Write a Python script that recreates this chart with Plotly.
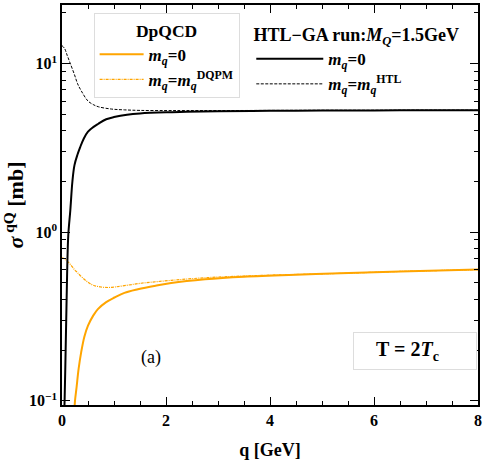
import plotly.graph_objects as go

# ---- data ----
q_htl_m0 = [0.04, 0.05, 0.07, 0.09, 0.12, 0.16, 0.20, 0.24, 0.30, 0.35, 0.42, 0.50, 0.60, 0.70, 0.85, 1.0, 1.25, 1.5, 2.0, 2.4, 3.0, 4.0, 5.0, 6.0, 7.0, 8.0]
v_htl_m0 = [0.08, 0.10, 0.20, 0.42, 0.95, 1.35, 2.0, 2.5, 2.9, 3.2, 3.6, 3.95, 4.2, 4.4, 4.68, 4.82, 4.98, 5.07, 5.15, 5.18, 5.22, 5.25, 5.27, 5.28, 5.29, 5.30]

q_htl_mq = [0.0, 0.05, 0.10, 0.15, 0.24, 0.30, 0.37, 0.50, 0.60, 0.70, 0.95, 1.2, 1.5, 2.0, 2.4, 3.0, 4.0, 5.0, 6.0, 7.0, 8.0]
v_htl_mq = [12.8, 12.3, 11.2, 10.2, 8.6, 7.6, 6.9, 6.0, 5.72, 5.55, 5.38, 5.32, 5.28, 5.27, 5.27, 5.27, 5.28, 5.29, 5.29, 5.30, 5.30]

q_dp_m0 = [0.24, 0.25, 0.28, 0.32, 0.37, 0.43, 0.50, 0.60, 0.69, 0.85, 1.01, 1.2, 1.46, 1.8, 2.1, 2.75, 3.5, 4.5, 5.35, 6.5, 8.0]
v_dp_m0 = [0.09, 0.10, 0.12, 0.155, 0.195, 0.24, 0.279, 0.32, 0.35, 0.385, 0.41, 0.437, 0.459, 0.482, 0.50, 0.526, 0.545, 0.56, 0.57, 0.585, 0.60]

q_dp_mq = [0.0, 0.05, 0.15, 0.24, 0.30, 0.40, 0.50, 0.60, 0.75, 0.90, 1.01, 1.2, 1.52, 2.1, 2.75, 3.5, 4.5, 5.35, 6.5, 8.0]
v_dp_mq = [0.705, 0.695, 0.65, 0.60, 0.575, 0.535, 0.505, 0.485, 0.473, 0.47, 0.473, 0.482, 0.498, 0.518, 0.537, 0.55, 0.562, 0.57, 0.585, 0.60]

x_ticks = [0, 2, 4, 6, 8]
y_ticks = [0.1, 1, 10]
y_ticktext = ["10<sup>−1</sup>", "10<sup>0</sup>", "10<sup>1</sup>"]
y_minor = [0.2, 0.3, 0.4, 0.5, 0.6, 0.7, 0.8, 0.9, 2, 3, 4, 5, 6, 7, 8, 9, 20]

ORANGE = "#FFA500"
SERIF = "Liberation Serif"

fig = go.Figure()
fig.add_trace(go.Scatter(x=q_dp_m0, y=v_dp_m0, mode="lines", line=dict(color=ORANGE, width=2, shape="spline"),
                         name="<b><i>m<sub>q</sub></i>=0</b>", legend="legend"))
fig.add_trace(go.Scatter(x=q_dp_mq, y=v_dp_mq, mode="lines",
                         line=dict(color=ORANGE, width=1.2, dash="3px,1px,1px,1px", shape="spline"),
                         name="<b><i>m<sub>q</sub></i>=<i>m</i><sub><i>q</i></sub><sup>DQPM</sup></b>", legend="legend"))
fig.add_trace(go.Scatter(x=q_htl_m0, y=v_htl_m0, mode="lines", line=dict(color="black", width=2, shape="spline"),
                         name="<b><i>m<sub>q</sub></i>=0</b>", legend="legend2"))
fig.add_trace(go.Scatter(x=q_htl_mq, y=v_htl_mq, mode="lines",
                         line=dict(color="black", width=1, dash="3px,1.5px", shape="spline"),
                         name="<b><i>m<sub>q</sub></i>=<i>m</i><sub><i>q</i></sub><sup>HTL</sup></b>", legend="legend2"))

axis_common = dict(
    showline=True, linecolor="black", linewidth=1.5, mirror="ticks",
    ticks="inside", ticklen=8, tickwidth=1, tickcolor="black",
    showgrid=False, zeroline=False,
    tickfont=dict(family=SERIF, size=16, color="black", weight="bold"),
)

fig.update_layout(
    width=485, height=460,
    margin=dict(l=62, r=7, t=3, b=53),
    paper_bgcolor="white", plot_bgcolor="white",
    font=dict(family=SERIF, color="black", size=15),
    xaxis=dict(axis_common, range=[0, 8], tickvals=x_ticks,
               minor=dict(ticks="inside", ticklen=4, dtick=0.5, tickcolor="black", showgrid=False),
               title=dict(text="<b>q [GeV]</b>", font=dict(family=SERIF, size=18), standoff=15)),
    yaxis=dict(axis_common, type="log", range=[-1.025, 1.348], tickvals=y_ticks, ticktext=y_ticktext,
               minor=dict(ticks="inside", ticklen=4, tickmode="array", tickvals=y_minor,
                          tickcolor="black", showgrid=False),
               title=dict(text="<b><i>σ</i><sup> qQ</sup> [mb]</b>", font=dict(family=SERIF, size=22), standoff=4)),
    legend=dict(x=0.076, y=0.98, xanchor="left", yanchor="top", bgcolor="white",
                bordercolor="#dddddd", borderwidth=1, itemwidth=44,
                font=dict(family=SERIF, size=17),
                title=dict(text="<b>DpQCD</b>", side="top center", font=dict(family=SERIF, size=17.5))),
    legend2=dict(x=0.455, y=0.968, xanchor="left", yanchor="top", bgcolor="rgba(0,0,0,0)",
                 borderwidth=0, itemwidth=67,
                 font=dict(family=SERIF, size=17),
                 title=dict(text="<b>HTL−GA run:<i>M<sub>Q</sub></i>=1.5GeV</b>", side="top center",
                            font=dict(family=SERIF, size=18))),
    annotations=[
        dict(text="(a)", x=0.213, y=0.118, xref="paper", yref="paper", showarrow=False,
             xanchor="center", yanchor="middle", font=dict(family=SERIF, size=18)),
        dict(text="<b>T = 2<i>T</i><sub>c</sub></b>   ", x=0.848, y=0.135, xref="paper", yref="paper",
             xanchor="center", yanchor="middle",
             showarrow=False, font=dict(family=SERIF, size=20), bgcolor="white",
             bordercolor="#dddddd", borderwidth=1, width=118, height=32, borderpad=2, align="center"),
    ],
)

fig.write_html("out.html", config={"displayModeBar": False},
               post_script="document.body.style.margin='0';")
